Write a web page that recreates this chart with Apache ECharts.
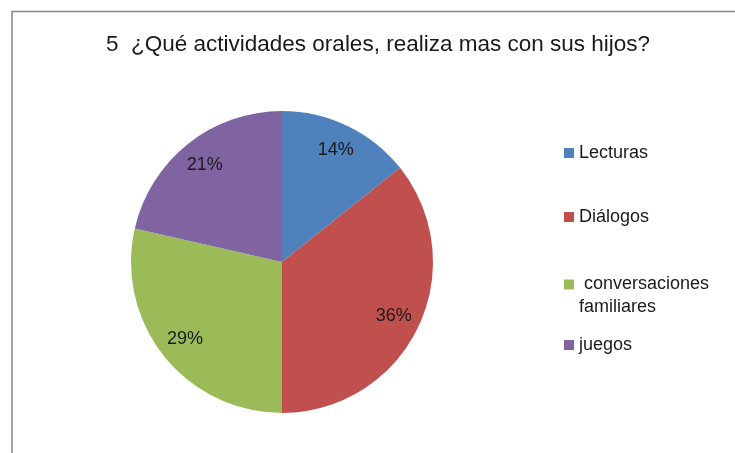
<!DOCTYPE html>
<html lang="es">
<head>
    <meta charset="UTF-8">
    <title>Actividades orales</title>
    <script src="https://cdn.jsdelivr.net/npm/echarts@6/dist/echarts.min.js"></script>
    <style>
        html, body { margin: 0; padding: 0; background: #fff; }
        #main { width: 735px; height: 453px; }
    </style>
</head>
<body>
<div id="main"></div>
<script>
    // datos (las proporciones corresponden a 2, 5, 4 y 3 respuestas)
    var categorias = ['Lecturas', 'Diálogos', ' conversaciones\nfamiliares', 'juegos'];
    var valores = [2, 5, 4, 3];
    var colores = ['#4F81BD', '#C0504D', '#9BBB59', '#8064A2'];
    var titulo = '5  ¿Qué actividades orales, realiza mas con sus hijos?';

    var fuente = 'Liberation Sans, Arial, sans-serif';

    var datos = categorias.map(function (c, i) {
        return { name: c, value: valores[i], itemStyle: { color: colores[i] } };
    });

    // leyenda: una por elemento para poder colocarlas como en el original
    var posLeyenda = [143, 207, 250, 335];
    var leyendas = categorias.map(function (c, i) {
        var dosLineas = c.indexOf('\n') >= 0;
        return {
            left: 564,
            top: posLeyenda[i],
            padding: 0,
            orient: 'vertical',
            icon: 'rect',
            itemWidth: 10,
            itemHeight: 10,
            selectedMode: false,
            data: [c],
            // linea vacia arriba para que el cuadro quede a la altura de la primera linea
            formatter: function (name) {
                return dosLineas ? '\n' + name : name;
            },
            textStyle: {
                fontFamily: fuente,
                fontSize: 18,
                lineHeight: dosLineas ? 23 : 20,
                color: '#1a1a1a'
            }
        };
    });

    var myChart = echarts.init(document.getElementById('main'));

    var option = {
        backgroundColor: '#fff',
        animation: false,
        title: {
            text: titulo,
            left: 106,
            top: 33,
            padding: 0,
            textStyle: {
                fontFamily: fuente,
                fontSize: 22.5,
                fontWeight: 'normal',
                color: '#1a1a1a'
            }
        },
        legend: leyendas,
        graphic: [{
            type: 'rect',
            shape: { x: 12, y: 11.5, width: 800, height: 600 },
            style: { fill: 'none', stroke: '#878787', lineWidth: 1.5 },
            silent: true
        }],
        series: [
            {
                type: 'pie',
                center: [282, 262],
                radius: [0, 151],
                startAngle: 90,
                clockwise: true,
                data: datos,
                label: { show: false },
                labelLine: { show: false },
                emphasis: { disabled: true }
            },
            {
                // serie transparente solo para colocar las etiquetas a 0.8 del radio
                type: 'pie',
                center: [282, 262],
                radius: [91, 151],
                startAngle: 90,
                clockwise: true,
                silent: true,
                percentPrecision: 0,
                data: datos.map(function (d) {
                    return { name: d.name, value: d.value, itemStyle: { color: 'rgba(0,0,0,0)' } };
                }),
                label: {
                    show: true,
                    position: 'inside',
                    formatter: '{d}%',
                    fontFamily: fuente,
                    fontSize: 18,
                    color: '#1a1a1a'
                },
                labelLine: { show: false },
                emphasis: { disabled: true }
            }
        ]
    };

    myChart.setOption(option);
</script>
</body>
</html>
